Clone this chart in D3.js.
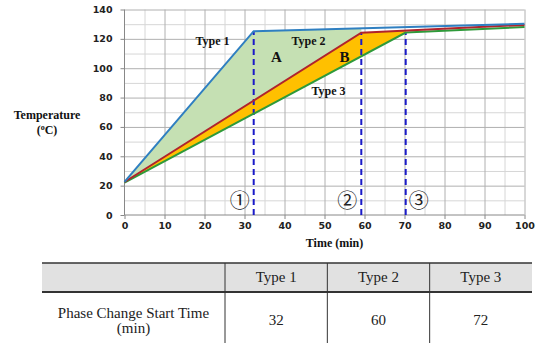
<!DOCTYPE html>
<meta charset="utf-8">
<style>
body { margin: 0; background: #fff; }
svg { display: block; }
.tick text { font-family: "DejaVu Sans", sans-serif; font-weight: bold; font-size: 9.5px; fill: #222; }
.axis path, .axis line { stroke: #888; }
.grid line { stroke: #d6d6d6; }
.grid.major line { stroke: #b0b0b0; }
.grid path { stroke: none; }
.lbl { font-family: "Liberation Serif", "Times New Roman", serif; font-weight: bold; fill: #111; }
.cell { font-family: "Liberation Serif", "Times New Roman", serif; font-size: 15px; fill: #222; }
.circ { font-family: "Noto Sans CJK KR", "DejaVu Sans", sans-serif; font-size: 20px; fill: #222; }
</style>
<svg width="546" height="343"></svg>
<script src="https://d3js.org/d3.v7.min.js"></script>
<script>

// time (min) / temperature (C) for each heating type
var type1 = [[0, 22.5], [32.3, 125.2], [100, 130.3]];
var type2 = [[0, 22.5], [59.2, 124.2], [100, 129.5]];
var type3 = [[0, 22], [70.3, 124.3], [100, 128]];
var phaseMarks = ["\u2460", "\u2461", "\u2462"];

var xTicks = [0, 10, 20, 30, 40, 50, 60, 70, 80, 90, 100];
var yTicks = [0, 20, 40, 60, 80, 100, 120, 140];

var tableTypes = ["Type 1", "Type 2", "Type 3"];
var tableStart = [32, 60, 72];

var svg = d3.select("svg");

var x = d3.scaleLinear().domain([0, 100]).range([124.5, 524.5]);
var y = d3.scaleLinear().domain([0, 140]).range([215, 9.5]);

var plotW = x(100) - x(0), plotH = y(0) - y(140);

// grid: minor every 5 min / 10 C, major every 10 min / 20 C
svg.append("g").attr("class", "grid")
    .attr("transform", "translate(0," + y(0) + ")")
    .call(d3.axisBottom(x).tickValues(d3.range(5, 100, 10)).tickSize(-plotH).tickFormat(""));
svg.append("g").attr("class", "grid")
    .attr("transform", "translate(" + x(0) + ",0)")
    .call(d3.axisLeft(y).tickValues(d3.range(10, 140, 20)).tickSize(-plotW).tickFormat(""));
svg.append("g").attr("class", "grid major")
    .attr("transform", "translate(0," + y(0) + ")")
    .call(d3.axisBottom(x).tickValues(xTicks.slice(1)).tickSize(-plotH).tickFormat(""));
svg.append("g").attr("class", "grid major")
    .attr("transform", "translate(" + x(0) + ",0)")
    .call(d3.axisLeft(y).tickValues(yTicks.slice(1)).tickSize(-plotW).tickFormat(""));

function interp(series, t) {
  for (var i = 1; i < series.length; i++) {
    var a = series[i - 1], b = series[i];
    if (t <= b[0]) return a[1] + (b[1] - a[1]) * (t - a[0]) / (b[0] - a[0]);
  }
  return series[series.length - 1][1];
}

// filled band between an upper and a lower curve, up to the lower curve's bend
function band(upper, lower) {
  var end = lower[1][0];
  var top = upper.filter(function(d) { return d[0] < end; }).concat([[end, interp(upper, end)]]);
  var bottom = lower.slice(0, 2).reverse();
  return top.concat(bottom);
}

var poly = d3.line().x(function(d) { return x(d[0]); }).y(function(d) { return y(d[1]); });

svg.append("path").attr("d", poly(band(type1, type2)) + "Z").attr("fill", "#c5e0b3");
svg.append("path").attr("d", poly(band(type2, type3)) + "Z").attr("fill", "#ffc000");

// axes
var xAxis = svg.append("g").attr("class", "axis")
    .attr("transform", "translate(0," + y(0) + ")")
    .call(d3.axisBottom(x).tickValues(xTicks).tickSize(4).tickPadding(3));
var yAxis = svg.append("g").attr("class", "axis")
    .attr("transform", "translate(" + x(0) + ",0)")
    .call(d3.axisLeft(y).tickValues(yTicks).tickSize(4).tickPadding(8));
xAxis.select(".domain").attr("d", "M" + x(0) + ",0H" + x(100));
yAxis.select(".domain").attr("d", "M0," + y(0) + "V" + y(140));

// dashed markers at the start of each phase change
var bends = [type1[1], type2[1], type3[1]];
svg.selectAll(".phase").data(bends).enter().append("line")
    .attr("class", "phase")
    .attr("x1", function(d) { return x(d[0]); })
    .attr("x2", function(d) { return x(d[0]); })
    .attr("y1", y(0))
    .attr("y2", function(d) { return y(d[1]); })
    .attr("stroke", "#1a1ac8")
    .attr("stroke-width", 2)
    .attr("stroke-dasharray", "6,4");

svg.append("path").attr("d", poly(type3)).attr("fill", "none").attr("stroke", "#2e9a3a").attr("stroke-width", 2);
svg.append("path").attr("d", poly(type2)).attr("fill", "none").attr("stroke", "#b0232c").attr("stroke-width", 2);
svg.append("path").attr("d", poly(type1)).attr("fill", "none").attr("stroke", "#2f7fc1").attr("stroke-width", 2);

// circled numbers next to the dashed lines (3rd sits on the right)
svg.selectAll(".circ").data(bends).enter().append("text")
    .attr("class", "circ")
    .attr("x", function(d, i) { return x(d[0]) + (i == 2 ? 13 : -14); })
    .attr("y", 208)
    .attr("text-anchor", "middle")
    .text(function(d, i) { return phaseMarks[i]; });

// annotations
function label(txt, tx, ty, size) {
  svg.append("text").attr("class", "lbl")
      .attr("x", x(tx)).attr("y", y(ty))
      .attr("text-anchor", "middle")
      .style("font-size", size + "px")
      .text(txt);
}
label("Type 1", 22, 115.5, 12);
label("Type 2", 46, 115.5, 12);
label("A", 38, 104, 15);
label("B", 55, 104, 15);
label("Type 3", 51, 82, 12);

svg.append("text").attr("class", "lbl").attr("x", 47).attr("y", 119)
    .attr("text-anchor", "middle").style("font-size", "12px").text("Temperature");
var unit = svg.append("text").attr("class", "lbl").attr("x", 47).attr("y", 134)
    .attr("text-anchor", "middle").style("font-size", "12px");
unit.append("tspan").text("(");
unit.append("tspan").attr("dy", -4).style("font-size", "8px").text("o");
unit.append("tspan").attr("dy", 4).text("C)");

svg.append("text").attr("class", "lbl").attr("x", x(52.5)).attr("y", 247)
    .attr("text-anchor", "middle").style("font-size", "12px").text("Time (min)");

// table
var tLeft = 42, tRight = 532, firstCol = 225, tTop = 263, headBot = 292;
var col = d3.scaleBand().domain(tableTypes).range([firstCol, tRight]);

svg.append("rect").attr("x", tLeft).attr("y", tTop).attr("width", tRight - tLeft)
    .attr("height", headBot - tTop).attr("fill", "#e1e1e1");
svg.append("line").attr("x1", tLeft).attr("x2", tRight).attr("y1", tTop).attr("y2", tTop)
    .attr("stroke", "#333").attr("stroke-width", 1.5);
svg.append("line").attr("x1", tLeft).attr("x2", tRight).attr("y1", headBot).attr("y2", headBot)
    .attr("stroke", "#333").attr("stroke-width", 2);
svg.selectAll(".sep").data(tableTypes).enter().append("line")
    .attr("class", "sep")
    .attr("x1", function(d) { return col(d); })
    .attr("x2", function(d) { return col(d); })
    .attr("y1", tTop).attr("y2", 343)
    .attr("stroke", "#333").attr("stroke-width", 1);

svg.selectAll(".head").data(tableTypes).enter().append("text")
    .attr("class", "cell")
    .attr("x", function(d) { return col(d) + col.bandwidth() / 2; })
    .attr("y", 282)
    .attr("text-anchor", "middle")
    .text(function(d) { return d; });

svg.selectAll(".val").data(tableStart).enter().append("text")
    .attr("class", "cell")
    .attr("x", function(d, i) { return col(tableTypes[i]) + col.bandwidth() / 2; })
    .attr("y", 325)
    .attr("text-anchor", "middle")
    .text(function(d) { return d; });

svg.append("text").attr("class", "cell").attr("x", (tLeft + firstCol) / 2).attr("y", 318)
    .attr("text-anchor", "middle").text("Phase Change Start Time");
svg.append("text").attr("class", "cell").attr("x", (tLeft + firstCol) / 2).attr("y", 333)
    .attr("text-anchor", "middle").text("(min)");

</script>
